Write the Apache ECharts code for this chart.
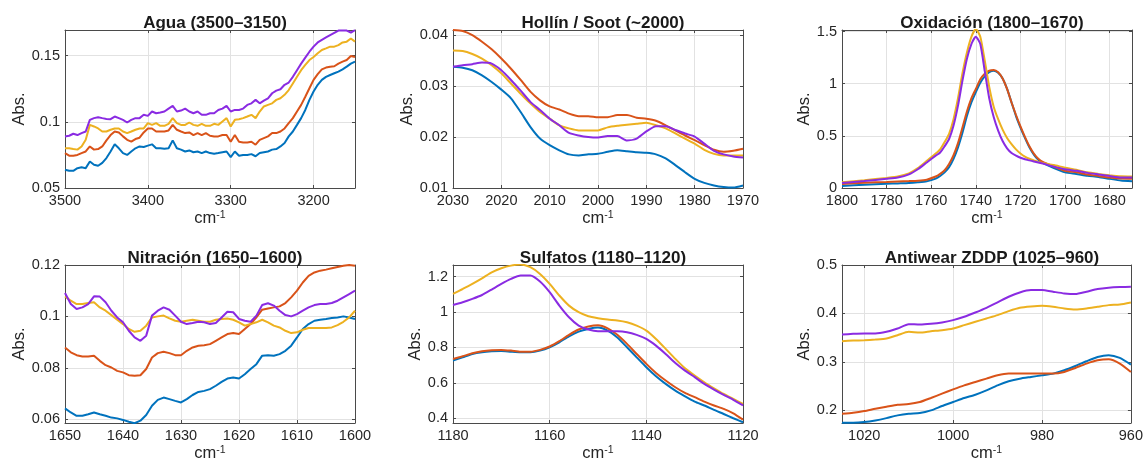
<!DOCTYPE html>
<html>
<head>
<meta charset="utf-8">
<script src="https://cdn.jsdelivr.net/npm/echarts@6/dist/echarts.min.js"></script>
<style>
html,body{margin:0;padding:0;background:#fff;}
#chart{width:1146px;height:464px;}
</style>
</head>
<body>
<div id="chart"></div>
<script>
// ---------- Series names / colours ----------
const seriesNames = ['Muestra 1', 'Muestra 2', 'Muestra 3', 'Muestra 4'];
const seriesColors = ['#0072BD', '#D95319', '#EDB120', '#8A2BE2'];

// ---------- Panel titles ----------
const panelTitles = ['Agua (3500–3150)', 'Hollín / Soot (~2000)', 'Oxidación (1800–1670)',
                     'Nitración (1650–1600)', 'Sulfatos (1180–1120)', 'Antiwear ZDDP (1025–960)'];

// ---------- Agua ----------
const aguaX = [3500,3495,3490,3485,3480,3475,3470,3465,3460,3455,3450,3445,3440,3435,3430,3425,3420,3415,3410,3405,
  3400,3395,3390,3385,3380,3375,3370,3365,3360,3355,3350,3345,3340,3335,3330,3325,3320,3315,3310,3305,
  3300,3295,3290,3285,3280,3275,3270,3265,3260,3255,3250,3245,3240,3235,3230,3225,3220,3215,3210,3205,
  3200,3195,3190,3185,3180,3175,3170,3165,3160,3155,3150];
const aguaBlue = [0.0638,0.063,0.063,0.065,0.0656,0.065,0.070,0.0676,0.0668,0.069,
  0.0726,0.0776,0.083,0.080,0.0764,0.075,0.0776,0.080,0.0814,0.081,
  0.082,0.083,0.080,0.080,0.0797,0.080,0.086,0.080,0.079,0.0776,
  0.0784,0.077,0.0776,0.0764,0.0776,0.0764,0.0759,0.0764,0.077,0.0776,
  0.0734,0.0776,0.0744,0.075,0.075,0.0756,0.074,0.0764,0.077,0.0776,
  0.079,0.0794,0.0814,0.084,0.089,0.0927,0.0977,0.1028,0.109,0.1166,
  0.1229,0.128,0.1317,0.134,0.1354,0.1367,0.138,0.1397,0.1417,0.144,0.1455];
const aguaOrange = [0.0764,0.0744,0.0744,0.075,0.0764,0.0776,0.0814,0.079,0.0794,0.0814,
  0.086,0.090,0.0927,0.092,0.089,0.0864,0.085,0.087,0.088,0.092,
  0.095,0.095,0.0927,0.0927,0.0927,0.0935,0.0977,0.094,0.0927,0.0915,
  0.092,0.090,0.0915,0.090,0.0915,0.0895,0.089,0.089,0.090,0.090,
  0.085,0.090,0.085,0.0844,0.0844,0.085,0.0827,0.0864,0.0877,0.089,
  0.0915,0.0915,0.0927,0.095,0.099,0.1028,0.1078,0.1128,0.119,0.1254,
  0.1317,0.136,0.1397,0.141,0.1417,0.142,0.144,0.1455,0.1467,0.1498,0.149];
const aguaYellow = [0.080,0.080,0.0794,0.079,0.0814,0.0864,0.0977,0.0965,0.095,0.0927,
  0.0927,0.094,0.095,0.095,0.0927,0.0915,0.0927,0.094,0.095,0.095,
  0.099,0.0977,0.099,0.097,0.097,0.0985,0.1028,0.099,0.0977,0.0977,
  0.0995,0.0977,0.097,0.0985,0.097,0.097,0.0985,0.0977,0.1003,0.1028,
  0.0965,0.1015,0.102,0.1028,0.104,0.1053,0.1028,0.1078,0.1116,0.1128,
  0.114,0.1166,0.1178,0.1204,0.124,0.129,0.134,0.139,0.143,0.1467,
  0.149,0.1518,0.1543,0.1555,0.1568,0.1568,0.158,0.160,0.1606,0.163,0.1606];
const aguaPurple = [0.089,0.0895,0.091,0.090,0.0915,0.0927,0.1015,0.1028,0.1035,0.1028,
  0.1022,0.102,0.104,0.1028,0.1015,0.0995,0.1015,0.1028,0.1028,0.1053,
  0.1045,0.1078,0.1065,0.107,0.1078,0.110,0.112,0.1078,0.1085,0.110,
  0.1078,0.1065,0.1078,0.1053,0.1053,0.1065,0.1065,0.109,0.110,0.112,
  0.1078,0.109,0.109,0.110,0.1128,0.114,0.1166,0.114,0.116,0.1178,
  0.1216,0.1236,0.1246,0.128,0.1297,0.134,0.139,0.144,0.1485,0.153,
  0.1568,0.160,0.162,0.1638,0.1656,0.1673,0.169,0.169,0.169,0.1675,0.1693];

// ---------- Hollín / Soot ----------
const sootX = [2030,2028,2026,2024,2022,2020,2018,2016,2014,2012,2010,2008,2006,2004,2002,2000,
  1998,1996,1994,1992,1990,1988,1986,1984,1982,1980,1978,1976,1974,1972,1970];
const sootBlue = [0.0338,0.0336,0.0331,0.0321,0.0308,0.0293,0.0276,0.0249,0.022,0.0197,0.0184,0.0174,0.0166,0.0164,0.0166,0.0167,
  0.0171,0.0174,0.0172,0.017,0.0169,0.0166,0.0158,0.0145,0.0131,0.0118,0.011,0.0105,0.0102,0.0101,0.0105];
const sootOrange = [0.041,0.0408,0.040,0.0387,0.0372,0.0354,0.0334,0.0312,0.0289,0.0272,0.026,0.0254,0.0246,0.0241,0.0241,0.0239,
  0.0239,0.0243,0.0243,0.0238,0.0236,0.0232,0.0223,0.0213,0.0203,0.0194,0.0184,0.0175,0.0171,0.0173,0.0177];
const sootYellow = [0.037,0.0369,0.0363,0.0354,0.0341,0.0325,0.0305,0.0285,0.0266,0.0249,0.0236,0.0223,0.0217,0.0213,0.0213,0.0213,
  0.0219,0.0222,0.0224,0.0226,0.0228,0.0223,0.0217,0.0207,0.0197,0.0187,0.0175,0.0167,0.0164,0.0164,0.0164];
const sootPurple = [0.0338,0.0341,0.0343,0.0346,0.0344,0.0331,0.0312,0.0291,0.0269,0.0253,0.0236,0.0223,0.0208,0.0203,0.02,0.0199,
  0.0202,0.0202,0.0193,0.0197,0.0211,0.0221,0.0221,0.0214,0.0207,0.0201,0.0187,0.0173,0.0166,0.0162,0.016];

// ---------- Oxidación ----------
const oxiX = [1800,1790,1780,1775,1770,1766,1762,1758,1756,1754,1752,1750,1748,1746,1744,1742,1740,1738,1736,1734,
  1732,1730,1728,1726,1724,1722,1720,1718,1716,1714,1712,1710,1705,1700,1695,1690,1685,1680,1675,1670];
const oxiBlue = [0.02,0.03,0.04,0.044,0.048,0.055,0.065,0.09,0.115,0.15,0.2,0.28,0.39,0.53,0.69,0.82,0.92,1.01,1.07,1.11,
  1.125,1.105,1.05,0.95,0.82,0.69,0.58,0.48,0.39,0.32,0.27,0.24,0.19,0.15,0.135,0.118,0.105,0.088,0.072,0.065];
const oxiOrange = [0.038,0.05,0.058,0.062,0.066,0.07,0.08,0.11,0.136,0.17,0.23,0.314,0.43,0.58,0.734,0.86,0.95,1.042,1.095,1.125,
  1.132,1.11,1.05,0.95,0.82,0.7,0.59,0.49,0.4,0.33,0.28,0.25,0.205,0.165,0.15,0.13,0.115,0.1,0.09,0.088];
const oxiYellow = [0.054,0.075,0.097,0.11,0.14,0.19,0.26,0.33,0.37,0.44,0.52,0.66,0.86,1.1,1.3,1.45,1.525,1.45,1.22,0.97,
  0.78,0.66,0.56,0.48,0.42,0.37,0.33,0.3,0.28,0.265,0.25,0.24,0.22,0.195,0.175,0.15,0.135,0.122,0.112,0.11];
const oxiPurple = [0.048,0.066,0.088,0.1,0.13,0.18,0.245,0.31,0.34,0.4,0.47,0.6,0.79,1.03,1.24,1.38,1.45,1.38,1.12,0.86,
  0.68,0.55,0.45,0.38,0.335,0.31,0.29,0.275,0.265,0.255,0.245,0.235,0.205,0.18,0.165,0.145,0.13,0.115,0.1,0.1];

// ---------- Nitración ----------
const nitX = [1650,1649,1648,1647,1646,1645,1644,1643,1642,1641,1640,1639,1638,1637,1636,1635,1634,1633,1632,1631,
  1630,1629,1628,1627,1626,1625,1624,1623,1622,1621,1620,1619,1618,1617,1616,1615,1614,1613,1612,1611,
  1610,1609,1608,1607,1606,1605,1604,1603,1602,1601,1600];
const nitBlue = [0.0642,0.0626,0.0613,0.0613,0.0619,0.0626,0.0619,0.0613,0.0606,0.0603,
  0.0597,0.059,0.0584,0.0594,0.0616,0.0652,0.0675,0.0684,0.0678,0.0671,
  0.0665,0.0678,0.0694,0.0706,0.071,0.0717,0.073,0.0745,0.0758,0.0762,
  0.0758,0.0775,0.0795,0.0814,0.0847,0.0849,0.0847,0.0853,0.0866,0.0886,
  0.0918,0.0951,0.097,0.0983,0.0987,0.099,0.0994,0.0996,0.1,0.0996,0.099];
const nitOrange = [0.0879,0.086,0.0849,0.0844,0.0844,0.0847,0.0827,0.081,0.0801,0.0788,
  0.0782,0.0771,0.0769,0.0771,0.0795,0.084,0.0857,0.0862,0.0857,0.0849,
  0.0849,0.0866,0.0879,0.0886,0.0888,0.0892,0.0905,0.0918,0.0931,0.0935,
  0.0931,0.0951,0.097,0.0996,0.1026,0.1031,0.1035,0.1039,0.1052,0.1074,
  0.11,0.1132,0.1158,0.1171,0.1178,0.1182,0.1187,0.1192,0.1197,0.12,0.1197];
const nitYellow = [0.1078,0.1061,0.1048,0.1048,0.1052,0.1055,0.1035,0.1022,0.1005,0.0987,
  0.097,0.0951,0.094,0.0944,0.0964,0.0996,0.1,0.1003,0.0992,0.0983,
  0.0979,0.0983,0.0987,0.0983,0.0979,0.0979,0.0987,0.099,0.0992,0.0987,
  0.0977,0.0964,0.097,0.0977,0.0987,0.0977,0.0964,0.0957,0.0944,0.0935,
  0.0938,0.0948,0.0955,0.0955,0.0955,0.0955,0.0957,0.0966,0.0979,0.0996,0.1022];
const nitPurple = [0.1091,0.1048,0.1029,0.1035,0.1048,0.1078,0.1077,0.1055,0.1022,0.0996,
  0.0977,0.0944,0.0918,0.0905,0.0925,0.1003,0.1022,0.1035,0.1026,0.1003,
  0.0979,0.097,0.0974,0.0979,0.0977,0.097,0.0974,0.0996,0.1018,0.1016,
  0.099,0.0983,0.0979,0.1003,0.1044,0.1051,0.1042,0.1022,0.1005,0.1,
  0.1009,0.1022,0.1035,0.1044,0.1048,0.1048,0.1052,0.1061,0.1074,0.1087,0.11];

// ---------- Sulfatos ----------
const sulX = [1180,1178,1176,1174,1172,1170,1168,1166,1164,1162,1160,1158,1156,1154,1152,1150,
  1148,1146,1144,1142,1140,1138,1136,1134,1132,1130,1128,1126,1124,1122,1120];
const sulBlue = [0.726,0.744,0.763,0.773,0.778,0.78,0.776,0.773,0.773,0.782,0.801,0.829,0.863,0.889,0.904,0.912,
  0.895,0.856,0.801,0.744,0.688,0.637,0.594,0.556,0.524,0.494,0.472,0.447,0.424,0.40,0.377];
const sulOrange = [0.735,0.75,0.767,0.778,0.784,0.786,0.782,0.776,0.776,0.786,0.805,0.835,0.871,0.901,0.918,0.925,
  0.908,0.871,0.82,0.763,0.707,0.656,0.613,0.575,0.543,0.519,0.494,0.472,0.453,0.428,0.392];
const sulYellow = [1.102,1.13,1.159,1.19,1.224,1.247,1.262,1.268,1.253,1.215,1.159,1.093,1.036,0.999,0.976,0.965,
  0.957,0.952,0.942,0.923,0.895,0.848,0.792,0.735,0.682,0.641,0.603,0.569,0.537,0.509,0.481];
const sulPurple = [1.04,1.055,1.074,1.096,1.127,1.159,1.187,1.206,1.206,1.172,1.112,1.036,0.97,0.923,0.901,0.891,
  0.891,0.891,0.886,0.871,0.848,0.81,0.763,0.712,0.669,0.632,0.594,0.562,0.532,0.504,0.472];

// ---------- Antiwear ZDDP ----------
const zddpX = [1025,1022.5,1020,1017.5,1015,1012.5,1010,1007.5,1005,1002.5,1000,997.5,995,992.5,990,
  987.5,985,982.5,980,977.5,975,972.5,970,967.5,965,962.5,960];
const zddpBlue = [0.1745,0.1745,0.1759,0.1793,0.1841,0.1897,0.1931,0.1945,0.2,0.209,0.2172,0.2255,0.2324,0.2414,0.2517,
  0.26,0.2655,0.269,0.2724,0.2759,0.2828,0.2917,0.3014,0.3103,0.3138,0.3083,0.2945];
const zddpOrange = [0.1931,0.1952,0.1986,0.2034,0.2076,0.2117,0.2131,0.2172,0.2255,0.2345,0.2434,0.2517,0.2586,0.2655,0.2724,
  0.2759,0.2759,0.2759,0.2759,0.2759,0.2793,0.2876,0.2966,0.3034,0.3055,0.2966,0.2793];
const zddpYellow = [0.3428,0.3441,0.3448,0.3462,0.3483,0.3552,0.3621,0.3607,0.3634,0.3655,0.369,0.3759,0.3828,0.3897,0.3966,
  0.4048,0.4117,0.4145,0.4159,0.4138,0.4103,0.4083,0.4103,0.4138,0.4172,0.4186,0.4228];
const zddpPurple = [0.3566,0.3579,0.3586,0.3586,0.3621,0.369,0.3779,0.3772,0.3786,0.3814,0.3862,0.3931,0.4021,0.4117,0.4228,
  0.4345,0.4434,0.4483,0.4483,0.4448,0.4414,0.44,0.4448,0.4503,0.4531,0.4545,0.4552];

// ---------- Axis ranges and tick steps ----------
const xRanges = [[3150, 3500], [1970, 2030], [1670, 1800], [1600, 1650], [1120, 1180], [960, 1025]];
const xSteps  = [100, 10, 20, 10, 20, 20];
const yRanges = [[0.05, 0.1694], [0.01, 0.041], [0, 1.515], [0.0585, 0.12], [0.373, 1.2655], [0.174, 0.5]];
const ySteps  = [0.05, 0.01, 0.5, 0.02, 0.2, 0.1];

// ---------- Assemble ----------
const panels = [
  {x: aguaX, ys: [aguaBlue, aguaOrange, aguaYellow, aguaPurple], smooth: false},
  {x: sootX, ys: [sootBlue, sootOrange, sootYellow, sootPurple], smooth: 0.2},
  {x: oxiX,  ys: [oxiBlue, oxiOrange, oxiYellow, oxiPurple], smooth: 0.2},
  {x: nitX,  ys: [nitBlue, nitOrange, nitYellow, nitPurple], smooth: false},
  {x: sulX,  ys: [sulBlue, sulOrange, sulYellow, sulPurple], smooth: 0.2},
  {x: zddpX, ys: [zddpBlue, zddpOrange, zddpYellow, zddpPurple], smooth: 0.2}
];

const layout = [
  {left: 65,  top: 30,  width: 290, height: 158, yGap: 36},
  {left: 453, top: 30,  width: 290, height: 158, yGap: 35},
  {left: 842, top: 30,  width: 290, height: 158, yGap: 28},
  {left: 65,  top: 265, width: 290, height: 158, yGap: 36},
  {left: 453, top: 265, width: 290, height: 158, yGap: 27},
  {left: 842, top: 265, width: 290, height: 158, yGap: 28}
];

const FONT = '"Liberation Sans", Arial, Helvetica, sans-serif';
const TXT = '#262626';
const AX = '#4a4a4a';

function stepFormatter(step) {
  return function (v) {
    const r = v / step;
    if (Math.abs(r - Math.round(r)) > 1e-6) return '';
    return String(parseFloat(v.toFixed(6)));
  };
}

const grids = [], xAxes = [], yAxes = [], series = [], titles = [];
layout.forEach((g, i) => {
  grids.push({left: g.left, top: g.top, width: g.width, height: g.height, containLabel: false});
  titles.push({
    text: panelTitles[i],
    left: g.left + g.width / 2,
    top: g.top - 20,
    textAlign: 'center',
    textStyle: {fontFamily: FONT, fontSize: 17, fontWeight: 'bold', color: '#1a1a1a'}
  });
  const xr = xRanges[i], yr = yRanges[i];
  const xBase = {
    type: 'value', gridIndex: i, min: xr[0], max: xr[1], inverse: true,
    minInterval: xSteps[i], maxInterval: xSteps[i],
    axisLine: {show: true, onZero: false, lineStyle: {color: AX, width: 1}},
    axisTick: {show: true, inside: true, length: 3, lineStyle: {color: AX}}
  };
  xAxes.push(Object.assign({}, xBase, {
    position: 'bottom',
    axisLabel: {show: true, color: TXT, fontFamily: FONT, fontSize: 14.5, margin: 5, formatter: stepFormatter(xSteps[i])},
    splitLine: {show: true, lineStyle: {color: '#e2e2e2', width: 1}},
    name: '{a|cm}{b|-1}', nameLocation: 'middle', nameGap: 22,
    nameTextStyle: {
      color: TXT, fontFamily: FONT,
      rich: {
        a: {fontSize: 16.5, color: TXT, fontFamily: FONT, verticalAlign: 'bottom'},
        b: {fontSize: 10.5, color: TXT, fontFamily: FONT, verticalAlign: 'top', padding: [0, 0, 6, 0]}
      }
    }
  }));
  xAxes.push(Object.assign({}, xBase, {
    position: 'top', axisLabel: {show: false}, splitLine: {show: false}
  }));
  const yBase = {
    type: 'value', gridIndex: i, min: yr[0], max: yr[1],
    minInterval: ySteps[i], maxInterval: ySteps[i],
    axisLine: {show: true, onZero: false, lineStyle: {color: AX, width: 1}},
    axisTick: {show: true, inside: true, length: 3, lineStyle: {color: AX}}
  };
  yAxes.push(Object.assign({}, yBase, {
    position: 'left',
    axisLabel: {show: true, color: TXT, fontFamily: FONT, fontSize: 14.5, margin: 5, formatter: stepFormatter(ySteps[i])},
    splitLine: {show: true, lineStyle: {color: '#e2e2e2', width: 1}},
    name: 'Abs.', nameLocation: 'middle', nameGap: g.yGap,
    nameTextStyle: {color: TXT, fontFamily: FONT, fontSize: 16.5}
  }));
  yAxes.push(Object.assign({}, yBase, {
    position: 'right', axisLabel: {show: false}, splitLine: {show: false}
  }));

  const p = panels[i];
  p.ys.forEach((vals, k) => {
    series.push({
      name: seriesNames[k], type: 'line', xAxisIndex: 2 * i, yAxisIndex: 2 * i,
      data: p.x.map((xv, j) => [xv, vals[j]]),
      showSymbol: false, symbol: 'none', smooth: p.smooth, clip: true,
      lineStyle: {color: seriesColors[k], width: 2},
      itemStyle: {color: seriesColors[k]},
      z: 2 + k
    });
  });
});

const chart = echarts.init(document.getElementById('chart'), null, {renderer: 'canvas'});
chart.setOption({
  backgroundColor: '#ffffff',
  animation: false,
  title: titles,
  grid: grids,
  xAxis: xAxes,
  yAxis: yAxes,
  series: series
});
</script>
</body>
</html>
